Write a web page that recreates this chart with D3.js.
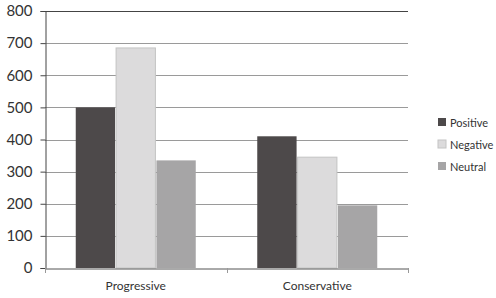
<!DOCTYPE html>
<html>
<head>
<meta charset="utf-8">
<script src="https://cdn.jsdelivr.net/npm/d3@7"></script>
<style>
  body { margin: 0; background: #fff; }
  text { font-family: Lato, "Open Sans", sans-serif; fill: #333; }
</style>
</head>
<body>
<div id="chart"></div>
<script>
// data
var categories = ["Progressive", "Conservative"];
var seriesNames = ["Positive", "Negative", "Neutral"];
var positive = [500, 410];
var negative = [685, 345];
var neutral = [335, 195];
var yTicks = [0, 100, 200, 300, 400, 500, 600, 700, 800];

var colors = {"Positive": "#4d494a", "Negative": "#dcdbdc", "Neutral": "#a6a5a6"};

var width = 496, height = 298;
var margin = {top: 11, right: 88, bottom: 30, left: 45};

var svg = d3.select("#chart").append("svg")
    .attr("width", width)
    .attr("height", height);

var x0 = d3.scaleBand().domain(categories)
    .range([margin.left, width - margin.right])
    .paddingInner(0).paddingOuter(0);
var x1 = d3.scaleBand().domain(seriesNames)
    .range([0, x0.bandwidth()])
    .paddingOuter(0.75).paddingInner(0);
var y = d3.scaleLinear().domain([0, 800])
    .range([height - margin.bottom, margin.top]);

var table = categories.map(function(c, i) {
    return {cat: c, values: [
        {key: "Positive", v: positive[i]},
        {key: "Negative", v: negative[i]},
        {key: "Neutral", v: neutral[i]}
    ]};
});

// grid lines
svg.append("g").selectAll("line")
    .data(yTicks.filter(d => d > 0))
    .enter().append("line")
    .attr("x1", margin.left).attr("x2", width - margin.right)
    .attr("y1", d => Math.round(y(d)) + 0.5).attr("y2", d => Math.round(y(d)) + 0.5)
    .attr("stroke", d => d === 800 ? "#444" : "#9a9a9a")
    .attr("stroke-width", 1);

// bars
var groups = svg.append("g").selectAll("g")
    .data(table).enter().append("g")
    .attr("transform", d => `translate(${x0(d.cat)},0)`);

groups.selectAll("rect")
    .data(d => d.values).enter().append("rect")
    .attr("x", d => x1(d.key) + 0.5)
    .attr("width", x1.bandwidth() - 1)
    .attr("y", d => y(d.v))
    .attr("height", d => y(0) - y(d.v))
    .attr("fill", d => colors[d.key])
    .attr("stroke", d => d.key === "Negative" ? "#c4c4c4" : "none")
    .attr("stroke-width", 1);

// y axis
var yAxis = d3.axisLeft(y).tickValues(yTicks).tickSize(5).tickPadding(8);
var gy = svg.append("g")
    .attr("transform", `translate(${margin.left + 0.5},0)`)
    .call(yAxis);
gy.select(".domain").attr("stroke", "#444");
gy.selectAll(".tick line").attr("stroke", "#444");
gy.selectAll("text").style("font-size", "15px").attr("fill", "#333");

// x axis
var xAxis = d3.axisBottom(x0).tickSize(0).tickPadding(13);
var gx = svg.append("g")
    .attr("transform", `translate(0,${y(0) + 0.5})`)
    .call(xAxis);
gx.select(".domain").attr("stroke", "#555");
gx.selectAll("text").style("font-size", "12px").attr("fill", "#333");

// category separator ticks
var sep = [x0.range()[0], x0(categories[1]), x0.range()[1]];
svg.append("g").selectAll("line")
    .data(sep).enter().append("line")
    .attr("x1", d => Math.round(d) + 0.5).attr("x2", d => Math.round(d) + 0.5)
    .attr("y1", y(0)).attr("y2", y(0) + 5)
    .attr("stroke", "#999");

// legend
var legend = svg.append("g").attr("transform", "translate(438,118)");
var items = legend.selectAll("g")
    .data(seriesNames).enter().append("g")
    .attr("transform", (d, i) => `translate(0,${i * 22})`);
items.append("rect")
    .attr("width", 8).attr("height", 8)
    .attr("fill", d => colors[d])
    .attr("stroke", d => d === "Negative" ? "#c4c4c4" : "none");
items.append("text")
    .attr("x", 12).attr("y", 8.5)
    .style("font-size", "11px")
    .text(d => d);
</script>
</body>
</html>
